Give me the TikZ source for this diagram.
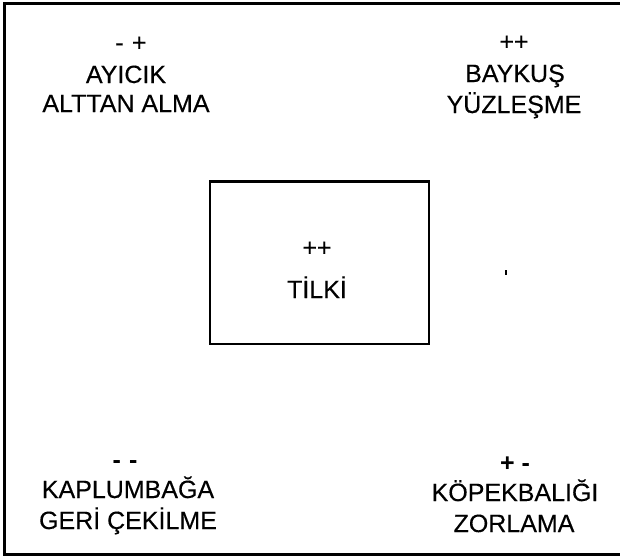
\documentclass[tikz,border=0pt]{standalone}
\usepackage{fontspec}
\setmainfont{Liberation Sans}
\newfontfamily\lblfont[FakeBold=0.3]{Liberation Sans}
\begin{document}
\begin{tikzpicture}[x=1pt,y=-1pt,
  lbl/.style={anchor=base,inner sep=0pt,font=\lblfont\fontsize{25}{29}\selectfont},
  bsgn/.style={lbl,font=\fontsize{25}{29}\selectfont\bfseries},
  frameline/.style={line width=3pt},
  centrebox/.style={draw,line width=2.5pt,inner sep=0pt,anchor=north west}]
\useasboundingbox (0,0) rectangle (624,558);
% outer frame (open at the right)
\coordinate (ftr) at (619.5,3);
\coordinate (ftl) at (4.5,3);
\coordinate (fbl) at (4.5,554);
\coordinate (fbr) at (619.5,554);
\draw[frameline] (ftr) -- (ftl) -- (fbl) -- (fbr);
% centre box
\node[centrebox,minimum width=219pt,minimum height=162.5pt] (box) at (208.5,180) {};
\node[lbl] (tsign) at (317,256) {++};
\node[lbl] (tilki) at (317,298) {TİLKİ};
% top left
\node[lbl] (aysign) at (131,51) {-\,\,+};
\node[lbl] (ayicik) at (126,83) {AYICIK};
\node[lbl] (alma) at (126,112) {ALTTAN ALMA};
% top right
\node[lbl] (bysign) at (514,50) {++};
\node[lbl] (baykus) at (515,82) {BAYKUŞ};
\node[lbl] (yuz) at (514,113) {YÜZLEŞME};
% bottom left
\node[bsgn] (kpsign) at (125,468) {-\,\,-};
\node[lbl] (kapl) at (128,498) {KAPLUMBAĞA};
\node[lbl] (geri) at (128,529) {GERİ ÇEKİLME};
% bottom right
\node[bsgn] (kbsign) at (515,471) {+ -};
\node[lbl] (kopek) at (515,501) {KÖPEKBALIĞI};
\node[lbl] (zor) at (514,532) {ZORLAMA};
% small stray mark
\fill (504.5,270) rectangle (506.5,275);
\end{tikzpicture}
\end{document}
